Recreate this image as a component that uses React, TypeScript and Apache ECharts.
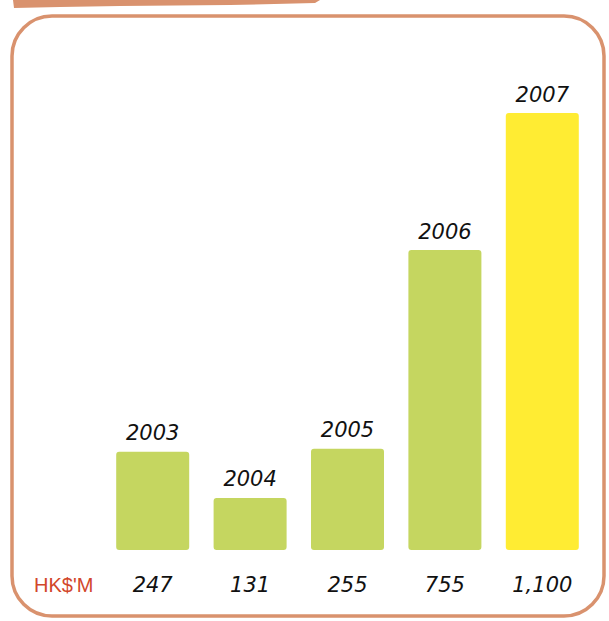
import React, { useEffect, useRef } from "react";
import * as echarts from "echarts";

const years = ["2003", "2004", "2005", "2006", "2007"];
const values = [247, 131, 255, 755, 1100];
const valueLabels = ["247", "131", "255", "755", "1,100"];
const unitLabel = "HK$'M";

const GREEN = "#c5d660";
const YELLOW = "#ffec33";
const BORDER = "#d9926e";
const FONT = "DejaVu Sans";

export default function App() {
  const ref = useRef<HTMLDivElement>(null);
  useEffect(() => {
    document.body.style.margin = "0";
    const chart = echarts.init(ref.current!, null, { renderer: "svg" });
    chart.setOption({
      animation: false,
      backgroundColor: "#ffffff",
      grid: { left: 104, right: 18, top: 113, bottom: 71 },
      xAxis: {
        type: "category",
        data: years,
        axisLine: { show: false },
        axisTick: { show: false },
        axisLabel: {
          margin: 24,
          fontFamily: FONT,
          fontStyle: "italic",
          fontSize: 21,
          color: "#111",
          formatter: (_v: string, i: number) => valueLabels[i],
        },
      },
      yAxis: {
        type: "value",
        min: 0,
        max: 1100,
        show: false,
        splitLine: { show: false },
      },
      graphic: [
        {
          type: "rect",
          shape: { x: 12, y: 16, width: 592, height: 600, r: 40 },
          style: { fill: "none", stroke: BORDER, lineWidth: 3.5 },
        },
        {
          type: "polygon",
          shape: {
            points: [
              [13, 0], [320, 0], [315, 3], [230, 5], [120, 6], [60, 7], [14, 8],
            ],
          },
          style: { fill: BORDER },
        },
        {
          type: "text",
          x: 34,
          y: 585,
          style: {
            text: unitLabel,
            fontFamily: "Liberation Sans Narrow, Liberation Sans",
            fontSize: 20,
            fill: "#d2472a",
            verticalAlign: "middle",
          },
        },
      ],
      series: [
        {
          type: "bar",
          data: values.map((v, i) => ({
            value: v,
            itemStyle: { color: i === values.length - 1 ? YELLOW : GREEN },
          })),
          barWidth: 73,
          itemStyle: { borderRadius: 3 },
          label: {
            show: true,
            position: "top",
            distance: 8,
            fontFamily: FONT,
            fontStyle: "italic",
            fontSize: 21,
            color: "#111",
            formatter: (p: any) => years[p.dataIndex],
          },
        },
      ],
    });
    return () => chart.dispose();
  }, []);
  return <div ref={ref} style={{ width: 609, height: 621 }} />;
}
